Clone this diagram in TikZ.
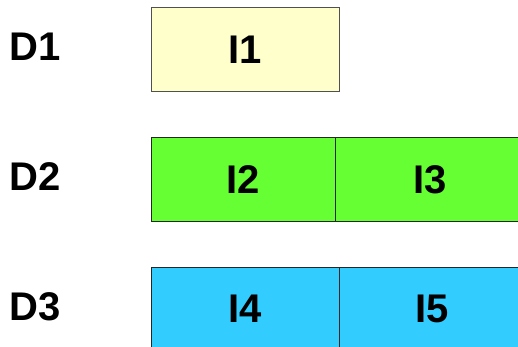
\documentclass[tikz,border=0pt]{standalone}
\usepackage{fontspec}
\setmainfont{Liberation Sans}
\definecolor{lyellow}{HTML}{FFFFCC}
\definecolor{lgreen}{HTML}{66FF33}
\definecolor{lblue}{HTML}{33CCFF}
\definecolor{bordergray}{HTML}{505050}
\begin{document}
\begin{tikzpicture}[x=1pt,y=-1pt,
  lbl/.style={font=\fontsize{40}{48}\selectfont\bfseries, inner sep=0pt},
  cell/.style={font=\fontsize{40}{48}\selectfont\bfseries, inner sep=0pt, outer sep=0pt,
    anchor=north west, line width=1pt, draw=black!85},
]
\useasboundingbox (0,0) rectangle (518,347);
\clip (0,0) rectangle (518,347);
\node[cell, fill=lyellow, draw=bordergray, minimum width=188pt, minimum height=84pt] (i1) at (151,8) {I1};
\node[cell, fill=lgreen, minimum width=184.5pt, minimum height=83pt] (i2) at (151,138) {I2};
\node[cell, fill=lgreen, minimum width=189pt, minimum height=83pt] (i3) at (335.5,138) {I3};
\node[cell, fill=lblue, minimum width=188pt, minimum height=84pt] (i4) at (151,267) {I4};
\node[cell, fill=lblue, minimum width=187pt, minimum height=84pt] (i5) at (339,267) {I5};
\node[lbl] (d1) at (35,47) {D1};
\node[lbl] (d2) at (35,177) {D2};
\node[lbl] (d3) at (35,307) {D3};
\end{tikzpicture}
\end{document}
